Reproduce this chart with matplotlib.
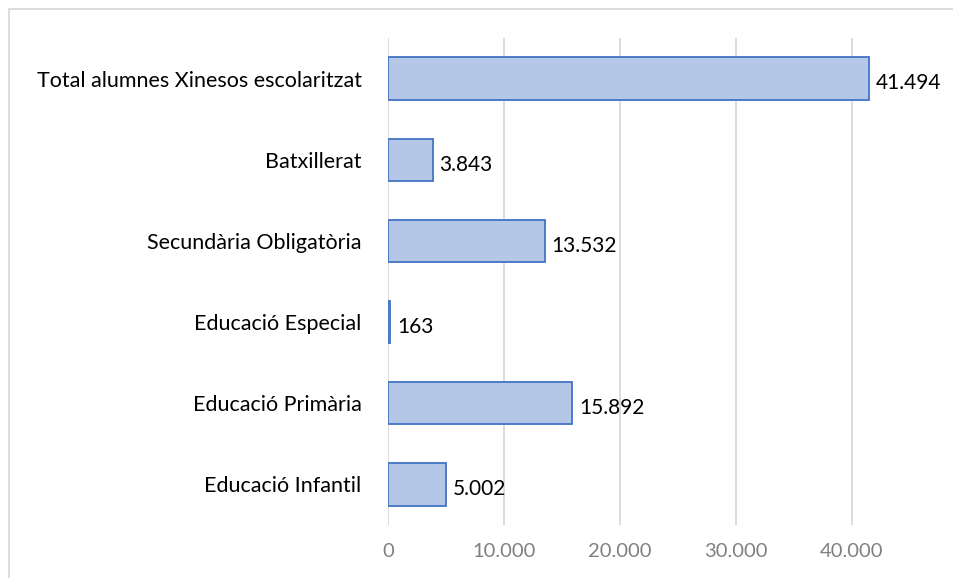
import matplotlib.pyplot as plt
from matplotlib.patches import Rectangle

categories = ["Educació Infantil", "Educació Primària", "Educació Especial",
              "Secundària Obligatòria", "Batxillerat", "Total alumnes Xinesos escolaritzat"]
values = [5002, 15892, 163, 13532, 3843, 41494]
value_labels = ["5.002", "15.892", "163", "13.532", "3.843", "41.494"]
xticks = [0, 10000, 20000, 30000, 40000]
xtick_labels = ["0", "10.000", "20.000", "30.000", "40.000"]

plt.rcParams['font.family'] = ['Lato', 'DejaVu Sans']

W, H = 954, 578
fig = plt.figure(figsize=(W / 100, H / 100), dpi=100)
ax = fig.add_axes([388 / W, 1 - 525 / H, (950 - 388) / W, (525 - 38) / H])

ypos = range(len(categories))
ax.barh(ypos, values, height=0.52, color='#B4C7E7', edgecolor='#4472C4', linewidth=1.3, zorder=3)
for y, v, lab in zip(ypos, values, value_labels):
    ax.text(v + 600, y - 0.06, lab, va='center', ha='left', fontsize=15, color='black')

ax.set_xlim(0, 48500)
ax.set_ylim(-0.5, len(categories) - 0.5)
ax.set_yticks(list(ypos))
ax.set_yticklabels(categories, fontsize=15.5)
ax.set_xticks(xticks)
ax.set_xticklabels(xtick_labels, fontsize=14.5, color='#808080')
ax.tick_params(axis='both', length=0)
ax.tick_params(axis='y', pad=19)
ax.tick_params(axis='x', pad=13)
ax.xaxis.grid(True, color='#D9D9D9', linewidth=1.3, zorder=0)
ax.set_axisbelow(True)
for s in ax.spines.values():
    s.set_visible(False)

fig.patches.append(Rectangle((9 / W, -0.1), 1.2, 1 - 9 / H + 0.1, transform=fig.transFigure,
                             fill=False, edgecolor='#D9D9D9', linewidth=1.3))

fig.savefig("out.png", dpi=100)
